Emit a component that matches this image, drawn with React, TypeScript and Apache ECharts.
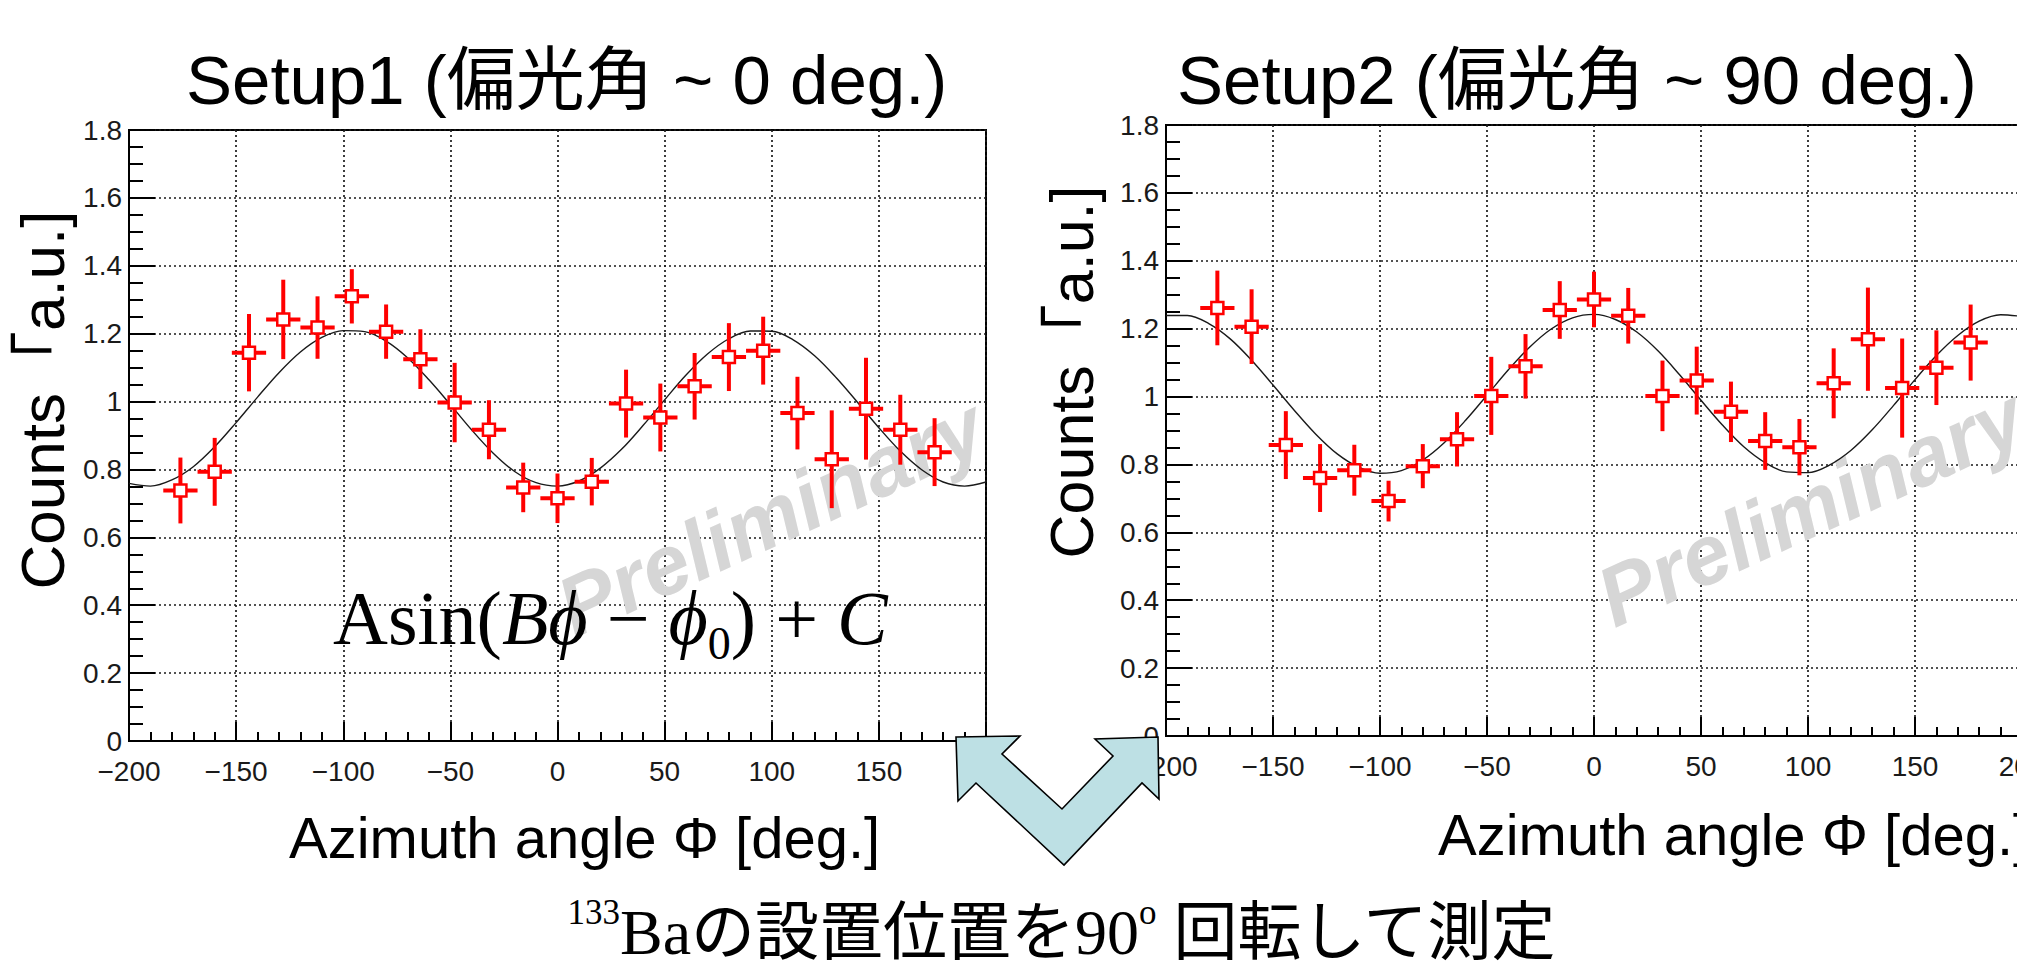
import React, { useEffect, useRef } from "react";
import * as echarts from "echarts";

// ---- data ----
const binCenters = [-176, -160, -144, -128, -112, -96, -80, -64, -48, -32, -16, 0, 16, 32, 48, 64, 80, 96, 112, 128, 144, 160, 176];
const binHalfWidth = 8;

const setup1Counts = [0.738, 0.793, 1.144, 1.242, 1.218, 1.31, 1.206, 1.125, 0.997, 0.917, 0.747, 0.715, 0.764, 0.994, 0.953, 1.045, 1.131, 1.15, 0.966, 0.83, 0.979, 0.917, 0.851];
const setup1Errors = [0.097, 0.1, 0.114, 0.117, 0.092, 0.08, 0.08, 0.088, 0.117, 0.087, 0.073, 0.073, 0.07, 0.1, 0.1, 0.098, 0.1, 0.1, 0.107, 0.144, 0.15, 0.103, 0.1];

const setup2Counts = [1.261, 1.206, 0.857, 0.76, 0.783, 0.692, 0.795, 0.874, 1.002, 1.089, 1.255, 1.286, 1.238, 1.002, 1.047, 0.955, 0.869, 0.851, 1.039, 1.169, 1.025, 1.085, 1.159];
const setup2Errors = [0.11, 0.11, 0.1, 0.1, 0.075, 0.06, 0.065, 0.08, 0.115, 0.095, 0.085, 0.082, 0.082, 0.104, 0.1, 0.089, 0.085, 0.083, 0.103, 0.152, 0.146, 0.11, 0.112];

const fitPhi = [-200, -190, -180, -170, -160, -150, -140, -130, -120, -110, -100, -90, -80, -70, -60, -50, -40, -30, -20, -10, 0, 10, 20, 30, 40, 50, 60, 70, 80, 90, 100, 110, 120, 130, 140, 150, 160, 170, 180, 190, 200];
const setup1Fit = [0.759, 0.751, 0.769, 0.808, 0.867, 0.938, 1.013, 1.085, 1.146, 1.189, 1.209, 1.206, 1.178, 1.129, 1.064, 0.991, 0.916, 0.848, 0.794, 0.761, 0.751, 0.766, 0.804, 0.86, 0.93, 1.005, 1.078, 1.14, 1.185, 1.208, 1.207, 1.182, 1.135, 1.071, 0.998, 0.923, 0.854, 0.799, 0.763, 0.751, 0.763];
const setup2Fit = [1.239, 1.239, 1.215, 1.17, 1.107, 1.034, 0.959, 0.889, 0.831, 0.792, 0.774, 0.782, 0.813, 0.864, 0.93, 1.004, 1.079, 1.146, 1.199, 1.232, 1.242, 1.227, 1.19, 1.134, 1.064, 0.989, 0.916, 0.852, 0.805, 0.778, 0.776, 0.798, 0.841, 0.902, 0.974, 1.05, 1.121, 1.18, 1.222, 1.241, 1.236];

const titles = ["Setup1 (偏光角 ~ 0 deg.)", "Setup2 (偏光角 ~ 90 deg.)"];
const xTitle = "Azimuth angle Φ [deg.]";
const yTitle = "Counts「a.u.]";
const watermark = "Preliminary";

const SANS = "'Liberation Sans', Arial, 'Noto Sans CJK JP', sans-serif";
const SERIF = "'Liberation Serif', 'Times New Roman', 'Noto Sans CJK JP', serif";

function xAxisFor(idx: number) {
  return {
    type: "value",
    gridIndex: idx,
    min: -200,
    max: 200,
    interval: 50,
    axisLine: { show: true, onZero: false, lineStyle: { color: "#000", width: 2 } },
    axisTick: { show: true, inside: true, length: 19, lineStyle: { color: "#000", width: 2 } },
    minorTick: { show: true, splitNumber: 5, length: 9, lineStyle: { color: "#000", width: 2 } },
    splitLine: { show: true, lineStyle: { color: "#1a1a1a", width: 1.7, type: [2, 3] } },
    axisLabel: {
      fontSize: 28,
      fontFamily: SANS,
      color: "#1a1a1a",
      margin: 16,
      showMinLabel: true,
      showMaxLabel: true,
      formatter: (v: number) => (v < 0 ? "\u2212" + String(-v) : String(v)),
    },
  };
}

function yAxisFor(idx: number) {
  return {
    type: "value",
    gridIndex: idx,
    min: 0,
    max: 1.8,
    interval: 0.2,
    axisLine: { show: true, onZero: false, lineStyle: { color: "#000", width: 2 } },
    axisTick: { show: true, inside: true, length: 26, lineStyle: { color: "#000", width: 2 } },
    minorTick: { show: true, splitNumber: 4, length: 14, lineStyle: { color: "#000", width: 2 } },
    splitLine: { show: true, lineStyle: { color: "#1a1a1a", width: 1.7, type: [2, 3] } },
    axisLabel: {
      fontSize: 28,
      fontFamily: SANS,
      color: "#1a1a1a",
      margin: 7,
      formatter: (v: number) => String(Math.round(v * 10) / 10),
    },
  };
}

function errorSeries(idx: number, counts: number[], errs: number[]) {
  return {
    type: "custom",
    xAxisIndex: idx,
    yAxisIndex: idx,
    coordinateSystem: "cartesian2d",
    encode: { x: 0, y: 1 },
    z: 3,
    data: binCenters.map((x, i) => [x, counts[i], errs[i]]),
    renderItem: (_p: any, api: any) => {
      const x = api.value(0);
      const y = api.value(1);
      const e = api.value(2);
      const c = api.coord([x, y]);
      const l = api.coord([x - binHalfWidth, y]);
      const r = api.coord([x + binHalfWidth, y]);
      const t = api.coord([x, y + e]);
      const b = api.coord([x, y - e]);
      const st = { stroke: "#ff0000", lineWidth: 4 };
      return {
        type: "group",
        children: [
          { type: "line", shape: { x1: l[0], y1: c[1], x2: r[0], y2: c[1] }, style: st },
          { type: "line", shape: { x1: c[0], y1: t[1], x2: c[0], y2: b[1] }, style: st },
        ],
      };
    },
  };
}

function markerSeries(idx: number, counts: number[]) {
  return {
    type: "scatter",
    xAxisIndex: idx,
    yAxisIndex: idx,
    z: 4,
    symbol: "rect",
    symbolSize: 12,
    itemStyle: { color: "#ffffff", borderColor: "#ff0000", borderWidth: 2.5, opacity: 1 },
    data: binCenters.map((x, i) => [x, counts[i]]),
  };
}

function fitSeries(idx: number, fit: number[]) {
  return {
    type: "line",
    xAxisIndex: idx,
    yAxisIndex: idx,
    z: 2,
    smooth: 0.35,
    showSymbol: false,
    symbol: "none",
    lineStyle: { color: "#1a1a1a", width: 1.4 },
    data: fitPhi.map((x, i) => [x, fit[i]]),
  };
}

const arrowPoints = [
  [956, 737], [1020, 736], [1002, 754], [1062, 809], [1113, 756], [1095, 739],
  [1158, 737], [1159, 799], [1142, 783], [1064, 865], [976, 783], [958, 801],
];

export default function App() {
  const ref = useRef<HTMLDivElement>(null);
  useEffect(() => {
    document.body.style.margin = "0";
    if (!ref.current) return;
    const chart = echarts.init(ref.current, undefined, { renderer: "svg" });
    const deg = Math.PI / 180;
    const wmStyle = { text: watermark, fontSize: 84, fontWeight: "bold", fontStyle: "italic", fontFamily: SANS, fill: "#d6d6d6", align: "left", verticalAlign: "bottom" };
    const option: any = {
      animation: false,
      backgroundColor: "#ffffff",
      grid: [
        { left: 129, top: 130, width: 857, height: 611, show: true, borderColor: "#000", borderWidth: 2, containLabel: false, outerBoundsMode: "none" },
        { left: 1166, top: 125, width: 856, height: 611, show: true, borderColor: "#000", borderWidth: 2, containLabel: false, outerBoundsMode: "none" },
      ],
      xAxis: [xAxisFor(0), xAxisFor(1)],
      yAxis: [yAxisFor(0), yAxisFor(1)],
      series: [
        fitSeries(0, setup1Fit),
        errorSeries(0, setup1Counts, setup1Errors),
        markerSeries(0, setup1Counts),
        fitSeries(1, setup2Fit),
        errorSeries(1, setup2Counts, setup2Errors),
        markerSeries(1, setup2Counts),
      ],
      graphic: [
        // watermarks
        { type: "text", x: 580, y: 650, rotation: 24.5 * deg, z: 1, silent: true, style: wmStyle },
        { type: "text", x: 1620, y: 640, rotation: 24.5 * deg, z: 1, silent: true, style: wmStyle },
        // titles
        { type: "text", x: 186, y: 80, z: 10,
          style: { text: titles[0], fontSize: 69, fontFamily: SANS, fill: "#000", align: "left", verticalAlign: "middle" } },
        { type: "text", x: 1177, y: 80, z: 10,
          style: { text: titles[1], fontSize: 69, fontFamily: SANS, fill: "#000", align: "left", verticalAlign: "middle" } },
        // axis titles
        { type: "text", x: 289, y: 837, z: 10,
          style: { text: xTitle, fontSize: 58, fontFamily: SANS, fill: "#000", align: "left", verticalAlign: "middle" } },
        { type: "text", x: 1438, y: 834, z: 10,
          style: { text: xTitle, fontSize: 58, fontFamily: SANS, fill: "#000", align: "left", verticalAlign: "middle" } },
        { type: "text", x: 42, y: 400, rotation: 90 * deg, z: 10,
          style: { text: yTitle, fontSize: 62, fontFamily: SANS, fill: "#000", align: "center", verticalAlign: "middle" } },
        { type: "text", x: 1072, y: 372, rotation: 90 * deg, z: 10,
          style: { text: yTitle, fontSize: 61, fontFamily: SANS, fill: "#000", align: "center", verticalAlign: "middle" } },
        // formula
        { type: "text", x: 333, y: 618, z: 10,
          style: {
            text: "{a|Asin(}{i|Bϕ}{a| − }{i|ϕ}{s|0}{a|) + }{i|C}",
            align: "left", verticalAlign: "middle",
            rich: {
              a: { fontSize: 76, fontFamily: SERIF, fill: "#000", lineHeight: 96, verticalAlign: "middle" },
              i: { fontSize: 76, fontFamily: SERIF, fontStyle: "italic", fill: "#000", lineHeight: 96, verticalAlign: "middle" },
              s: { fontSize: 46, fontFamily: SERIF, fill: "#000", lineHeight: 46, verticalAlign: "bottom" },
            },
          } },
        // bottom caption
        { type: "text", x: 1062, y: 932, z: 10,
          style: {
            text: "{sup|133}{m|Baの設置位置を90}{sup|o}{m| 回転して測定}",
            align: "center", verticalAlign: "middle",
            rich: {
              m: { fontSize: 64, fontFamily: SERIF, fill: "#000", lineHeight: 74, verticalAlign: "middle" },
              sup: { fontSize: 35, fontFamily: SERIF, fill: "#000", lineHeight: 40, verticalAlign: "top" },
            },
          } },
        // arrow
        { type: "polygon", z: 20,
          shape: { points: arrowPoints },
          style: { fill: "#bde0e4", stroke: "#000", lineWidth: 1.6 } },
      ],
    };
    chart.setOption(option);
    return () => chart.dispose();
  }, []);
  return <div ref={ref} style={{ width: 2017, height: 974 }} />;
}
